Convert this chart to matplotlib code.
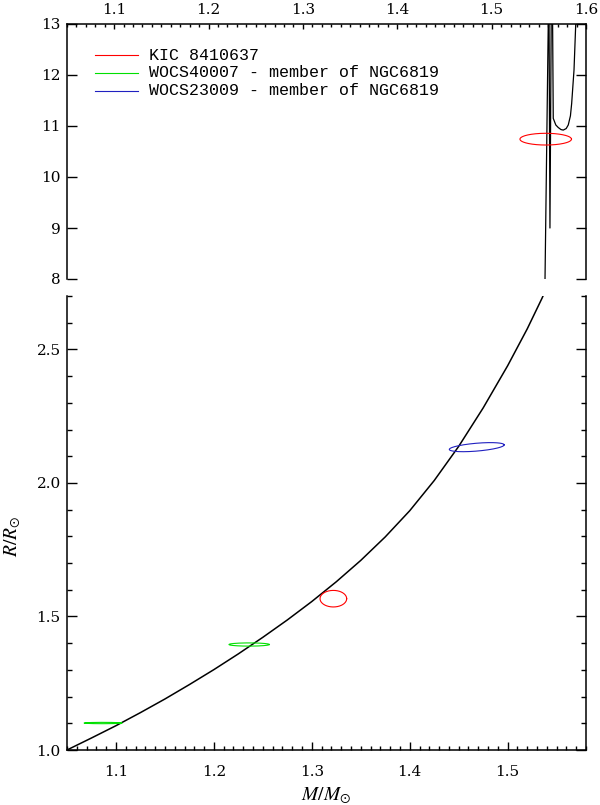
#Mass-radius plot with two panels (giant branch on top, main sequence below)
import numpy as np
import matplotlib
matplotlib.use('Agg')
import matplotlib.pyplot as plt
from matplotlib.ticker import MultipleLocator, FormatStrFormatter

plt.rcParams['font.family'] = 'DejaVu Serif'
plt.rcParams['mathtext.fontset'] = 'stix'

#model track, lower part (M, R)
track_m = [1.050, 1.075, 1.100, 1.125, 1.150, 1.175, 1.200, 1.225, 1.250,
           1.275, 1.300, 1.325, 1.350, 1.375, 1.400, 1.425, 1.450, 1.475,
           1.500, 1.520, 1.535, 1.545]
track_r = [1.000, 1.045, 1.091, 1.140, 1.191, 1.245, 1.301, 1.360, 1.422,
           1.487, 1.556, 1.630, 1.710, 1.798, 1.896, 2.009, 2.137, 2.281,
           2.439, 2.577, 2.691, 2.773]

#model track, upper part (clipped at 13)
top_m = [1.5565, 1.5602, 1.5608, 1.5618, 1.5632, 1.5645, 1.5653, 1.5680,
         1.5706, 1.5735, 1.5759, 1.5790, 1.5812, 1.5835, 1.5848, 1.5873,
         1.5891, 1.5900]
top_r = [7.9, 13.3, 13.3, 9.0, 13.3, 13.3, 11.15, 11.02,
         10.97, 10.93, 10.92, 10.95, 11.02, 11.20, 11.44, 12.10,
         12.99, 13.3]

#stars: name, colour
names = ['KIC 8410637', 'WOCS40007 - member of NGC6819', 'WOCS23009 - member of NGC6819']
colors = ['#ff0000', '#00e000', '#2020c0']

#error ellipses: centre M, centre R, sigma M, sigma R, correlation, star index
ell_top = [(1.5573, 10.742, 0.0273, 0.115, 0.0, 0)]
ell_bot = [(1.3220, 1.5666, 0.0136, 0.031, 0.0, 0),
           (1.0867, 1.1010, 0.0192, 0.0025, 0.0, 1),
           (1.2360, 1.3950, 0.0206, 0.0060, 0.0, 1),
           (1.4684, 2.1340, 0.0280, 0.0170, 0.5, 2)]


def draw_ellipse(ax, cm, cr, sm, sr, rho, col):
    t = np.linspace(0, 2*np.pi, 300)
    x = cm + sm*np.cos(t)
    y = cr + sr*(rho*np.cos(t) + np.sqrt(1-rho**2)*np.sin(t))
    ax.plot(x, y, color=col, lw=0.8)


fig = plt.figure(figsize=(6, 8.05), dpi=100)
ax_top = fig.add_axes([67/600, 1-279/805, 519/600, 255/805])
ax_bot = fig.add_axes([67/600, 1-750/805, 519/600, 454/805])

#top panel
ax_top.plot(top_m, top_r, color='black', lw=0.9)
for e in ell_top:
    draw_ellipse(ax_top, e[0], e[1], e[2], e[3], e[4], colors[e[5]])
ax_top.set_xlim(1.05, 1.6)
ax_top.set_ylim(8, 13)
ax_top.spines['bottom'].set_visible(False)
ax_top.xaxis.set_major_locator(MultipleLocator(0.1))
ax_top.xaxis.set_minor_locator(MultipleLocator(0.01))
ax_top.xaxis.set_major_formatter(FormatStrFormatter('%.1f'))
ax_top.yaxis.set_major_locator(MultipleLocator(1))
ax_top.yaxis.set_major_formatter(FormatStrFormatter('%d'))
ax_top.tick_params(axis='x', which='both', direction='in', top=True, bottom=False,
                   labeltop=True, labelbottom=False, width=1.0)
ax_top.tick_params(axis='x', which='major', length=3.6, pad=5)
ax_top.tick_params(axis='x', which='minor', length=1.8)
ax_top.tick_params(axis='y', which='major', direction='in', left=True, right=True,
                   length=7.2, pad=4.5, width=1.0)

#legend drawn by hand
for i in range(3):
    yy = [0.878, 0.809, 0.738][i]
    ax_top.plot([0.054, 0.137], [yy, yy], color=colors[i], lw=0.8, transform=ax_top.transAxes)
    ax_top.text(0.158, yy, names[i], transform=ax_top.transAxes, va='center', ha='left',
                fontsize=12, family='Liberation Mono')

#bottom panel
ax_bot.plot(track_m, track_r, color='black', lw=1.1)
for e in ell_bot:
    draw_ellipse(ax_bot, e[0], e[1], e[2], e[3], e[4], colors[e[5]])
ax_bot.set_xlim(1.05, 1.58)
ax_bot.set_ylim(1.0, 2.7)
ax_bot.spines['top'].set_visible(False)
ax_bot.xaxis.set_major_locator(MultipleLocator(0.1))
ax_bot.xaxis.set_minor_locator(MultipleLocator(0.01))
ax_bot.xaxis.set_major_formatter(FormatStrFormatter('%.1f'))
ax_bot.yaxis.set_major_locator(MultipleLocator(0.5))
ax_bot.yaxis.set_minor_locator(MultipleLocator(0.1))
ax_bot.yaxis.set_major_formatter(FormatStrFormatter('%.1f'))
ax_bot.tick_params(axis='x', which='both', direction='in', top=False, bottom=True, width=1.0)
ax_bot.tick_params(axis='x', which='major', length=6, pad=11)
ax_bot.tick_params(axis='x', which='minor', length=3)
ax_bot.tick_params(axis='y', which='both', direction='in', left=True, right=True, width=1.0)
ax_bot.tick_params(axis='y', which='major', length=7.2, pad=4.5)
ax_bot.tick_params(axis='y', which='minor', length=3.6)

for ax in (ax_top, ax_bot):
    for s in ax.spines.values():
        s.set_linewidth(1.1)
    for lab in ax.get_xticklabels() + ax.get_yticklabels():
        lab.set_fontsize(11)

ax_bot.set_xlabel(r'$M/M_{\odot}$', fontsize=14)
ax_bot.set_ylabel(r'$R/R_{\odot}$', fontsize=14)
ax_bot.xaxis.label.set_va('center')
ax_bot.yaxis.label.set_va('center')
ax_bot.xaxis.set_label_coords(0.5, -0.1)
ax_bot.yaxis.set_label_coords(-0.105, 0.47)

plt.savefig('out.png', dpi=100)
